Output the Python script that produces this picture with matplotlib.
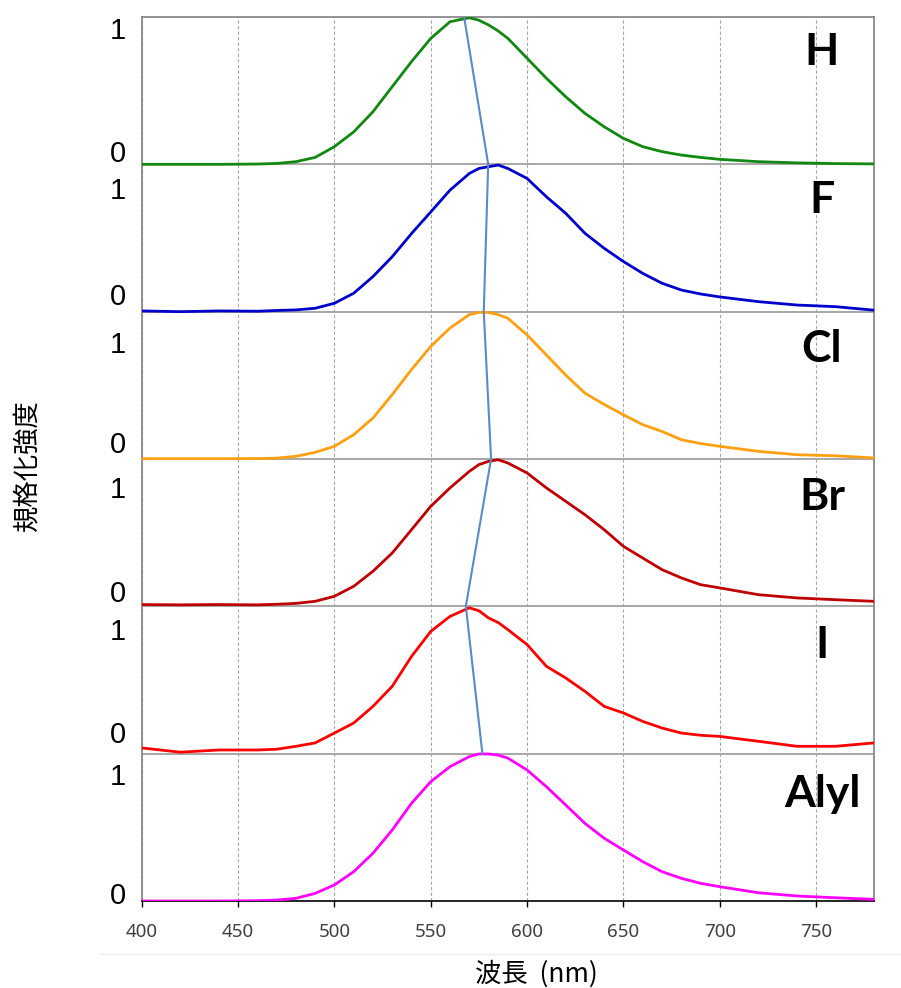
import matplotlib
matplotlib.use("Agg")
import matplotlib.pyplot as plt
from matplotlib.lines import Line2D

# Wavelength grid (nm) the spectra were read at
wavelength = [400, 420, 440, 460, 470, 480, 490, 500, 510, 520, 530, 540, 550, 560,
              570, 575, 580, 585, 590, 600, 610, 620, 630, 640, 650, 660, 670, 680,
              690, 700, 720, 740, 760, 780]

# Normalized emission spectra, one list per substituent
spec_H = [0.0, 0.0, 0.0, 0.002, 0.006, 0.018, 0.047, 0.12, 0.22, 0.357, 0.527, 0.697,
          0.855, 0.968, 0.995, 0.978, 0.946, 0.905, 0.855, 0.72, 0.584, 0.459, 0.346,
          0.255, 0.176, 0.12, 0.086, 0.063, 0.047, 0.034, 0.018, 0.01, 0.005, 0.003]
spec_F = [0.005, 0.0, 0.005, 0.003, 0.008, 0.012, 0.023, 0.057, 0.125, 0.238, 0.373,
          0.53, 0.677, 0.825, 0.938, 0.972, 0.984, 0.995, 0.972, 0.904, 0.78, 0.668,
          0.532, 0.43, 0.34, 0.26, 0.193, 0.147, 0.12, 0.10, 0.068, 0.045, 0.034, 0.01]
spec_Cl = [0.002, 0.002, 0.002, 0.003, 0.006, 0.018, 0.045, 0.086, 0.165, 0.278, 0.437,
           0.607, 0.764, 0.889, 0.98, 0.995, 0.995, 0.98, 0.955, 0.842, 0.706, 0.57,
           0.447, 0.37, 0.30, 0.233, 0.187, 0.131, 0.105, 0.086, 0.052, 0.029, 0.022, 0.007]
spec_Br = [0.012, 0.01, 0.012, 0.01, 0.014, 0.02, 0.034, 0.068, 0.136, 0.238, 0.362,
           0.52, 0.679, 0.804, 0.916, 0.962, 0.984, 0.995, 0.973, 0.905, 0.804, 0.713,
           0.622, 0.52, 0.407, 0.328, 0.249, 0.193, 0.147, 0.125, 0.079, 0.057, 0.045, 0.034]
spec_I = [0.039, 0.01, 0.025, 0.025, 0.03, 0.05, 0.073, 0.14, 0.208, 0.321, 0.457,
          0.66, 0.83, 0.932, 0.99, 0.97, 0.921, 0.89, 0.842, 0.74, 0.593, 0.514, 0.423,
          0.321, 0.276, 0.219, 0.174, 0.14, 0.125, 0.117, 0.084, 0.05, 0.05, 0.073]
spec_Alyl = [0.0, 0.0, 0.0, 0.002, 0.006, 0.018, 0.052, 0.109, 0.199, 0.324, 0.482,
             0.663, 0.81, 0.912, 0.98, 0.998, 0.998, 0.99, 0.97, 0.889, 0.776, 0.652,
             0.527, 0.426, 0.346, 0.267, 0.199, 0.154, 0.12, 0.097, 0.056, 0.034, 0.022, 0.011]

names = ["H", "F", "Cl", "Br", "I", "Alyl"]
spectra = [spec_H, spec_F, spec_Cl, spec_Br, spec_I, spec_Alyl]
colors = ["#118811", "#0000cc", "#ffa010", "#c00000", "#ff0000", "#ff00ff"]

# Peak wavelength of each spectrum (nm)
peak_wl = [567.3, 579.8, 577.5, 581.3, 568.2, 576.8]

# Hand placed "1"/"0" labels and element names (in stacked y units)
one_pos = [5.851, 4.765, 3.72, 2.735, 1.772, 0.787]
zero_pos = [5.016, 4.045, 3.041, 2.029, 1.072, -0.02]
name_pos = [5.674, 4.67, 3.658, 2.654, 1.649, 0.638]

plt.rcParams['font.family'] = ['Noto Sans CJK JP', 'DejaVu Sans']

fig = plt.figure(figsize=(9.01, 9.88), dpi=100)
ax = fig.add_axes([141.7 / 901, 1 - 901 / 988, (874 - 141.7) / 901, (901 - 17) / 988])

n = len(spectra)
for i, (spec, col) in enumerate(zip(spectra, colors)):
    off = n - 1 - i
    ax.plot(wavelength, [v + off for v in spec], color=col, lw=2.0, zorder=3,
            solid_joinstyle='round')
    ax.text(392, one_pos[i], "1", ha='right', va='baseline', fontsize=21,
            family='Liberation Sans', color='black')
    ax.text(392, zero_pos[i], "0", ha='right', va='baseline', fontsize=21,
            family='Liberation Sans', color='black')
    ax.text(753, name_pos[i], names[i], ha='center', va='baseline', fontsize=32,
            family='Lato', fontweight='bold', color='black')

# panel separators
for k in range(1, n):
    ax.axhline(k, color='#a0a0a0', lw=1.3, zorder=2)

# line joining the peak maxima
ax.plot(peak_wl, [n - i for i in range(n)], color='#5b8ac6', lw=1.5, zorder=4)

ax.set_xlim(400, 780)
ax.set_ylim(0, n)
ax.set_xticks(range(400, 751, 50))
ax.set_yticks([])
ax.grid(axis='x', color='#a8a8a8', lw=0.8, ls=(0, (3, 2)))
ax.set_axisbelow(True)
ax.tick_params(axis='x', length=4, width=1, color='black', pad=12,
               labelsize=13.5, labelcolor='#404040')
for lbl in ax.get_xticklabels():
    lbl.set_family('Noto Sans')

for side in ['left', 'right', 'top']:
    ax.spines[side].set_color('#808080')
    ax.spines[side].set_linewidth(1.2)
ax.spines['bottom'].set_color('black')
ax.spines['bottom'].set_linewidth(1.2)

fig.text(536 / 901, 1 - 974 / 988, "波長  (nm)", ha='center', va='center', fontsize=19)
fig.text(27 / 901, 1 - 465 / 988, "規格化強度", ha='center', va='center', fontsize=19,
         rotation=90)

# faint outer frame line under the tick labels
fig.add_artist(Line2D([100 / 901, 1.0], [1 - 954 / 988] * 2, color='#ececec', lw=1))

fig.savefig("out.png", dpi=100)
